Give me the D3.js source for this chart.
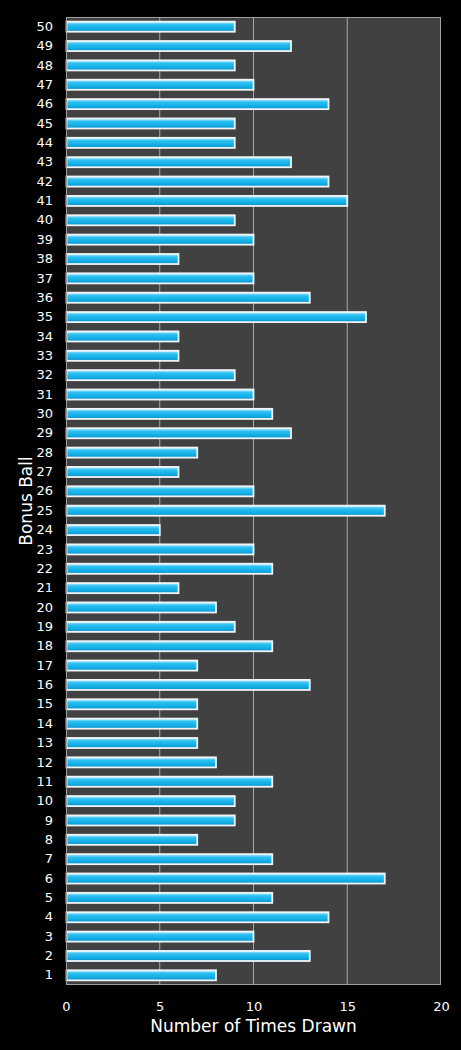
<!DOCTYPE html>
<html>
<head>
<meta charset="utf-8">
<script src="https://cdn.jsdelivr.net/npm/d3@7"></script>
<style>
  html, body { margin: 0; padding: 0; background: #000; }
  svg { display: block; }
  text { font-family: "DejaVu Sans", Verdana, sans-serif; fill: #fff; }
</style>
</head>
<body>
<div class="bonus-chart"></div>
<script>
// bonus ball numbers, 1..50
const balls = d3.range(1, 51);
// number of times each ball was drawn
const timesDrawn = [
  8, 13, 10, 14, 11, 17, 11, 7, 9, 9,
  11, 8, 7, 7, 7, 13, 7, 11, 9, 8,
  6, 11, 10, 5, 17, 10, 6, 7, 12, 11,
  10, 9, 6, 6, 16, 13, 10, 6, 10, 9,
  15, 14, 12, 9, 9, 14, 10, 9, 12, 9
];
const xTicks = [0, 5, 10, 15, 20];

const width = 461, height = 1050;
const margin = {top: 17, right: 20, bottom: 65, left: 66};
const innerW = width - margin.left - margin.right;
const innerH = height - margin.top - margin.bottom;

const svg = d3.select('.bonus-chart').append('svg')
              .attr('width', width)
              .attr('height', height);

// bar gradient
const grad = svg.append('defs').append('linearGradient')
                .attr('id', 'barGrad').attr('x1', 0).attr('y1', 0).attr('x2', 0).attr('y2', 1);
grad.append('stop').attr('offset', '0%').attr('stop-color', '#bdeefe');
grad.append('stop').attr('offset', '30%').attr('stop-color', '#2cc0f0');
grad.append('stop').attr('offset', '70%').attr('stop-color', '#12ade6');
grad.append('stop').attr('offset', '100%').attr('stop-color', '#0b8fc6');

const g = svg.append('g').attr('transform', 'translate(' + margin.left + ',' + margin.top + ')');

const x = d3.scaleLinear().domain([0, 20]).range([0, innerW]);
const y = d3.scaleBand().domain(balls.slice().reverse()).range([0, innerH]).paddingInner(0.48).paddingOuter(0.24);

// plot background
g.append('rect').attr('width', innerW).attr('height', innerH).attr('fill', '#414141');

// vertical grid lines
g.selectAll('.grid').data(xTicks.slice(1, -1)).enter().append('line')
 .attr('class', 'grid')
 .attr('x1', d => x(d)).attr('x2', d => x(d))
 .attr('y1', 0).attr('y2', innerH)
 .attr('stroke', '#a8a8a8').attr('stroke-width', 1);

// bars
g.selectAll('.bar').data(balls).enter().append('rect')
 .attr('class', 'bar')
 .attr('x', 0.5)
 .attr('y', d => y(d))
 .attr('width', d => x(timesDrawn[d - 1]) - 0.5)
 .attr('height', y.bandwidth())
 .attr('fill', 'url(#barGrad)')
 .attr('stroke', '#eef4f8').attr('stroke-width', 1.8);

// plot frame
g.append('rect').attr('x', 0.5).attr('y', 0.5).attr('width', innerW - 1).attr('height', innerH - 1)
 .attr('fill', 'none').attr('stroke', '#a0a0a0').attr('stroke-width', 1);

// axes
const xAxis = g.append('g').attr('transform', 'translate(0,' + innerH + ')')
               .call(d3.axisBottom(x).tickValues(xTicks).tickSize(0).tickPadding(17));
const yAxis = g.append('g')
               .call(d3.axisLeft(y).tickSize(0).tickPadding(13));
[xAxis, yAxis].forEach(a => {
  a.select('.domain').remove();
  a.selectAll('text').style('font-size', '13px').style('fill', '#fff')
   .style('font-family', '"DejaVu Sans", Verdana, sans-serif');
});

// axis titles
svg.append('text')
   .attr('x', margin.left + innerW / 2).attr('y', 1032)
   .attr('text-anchor', 'middle').style('font-size', '17px')
   .text('Number of Times Drawn');
svg.append('text')
   .attr('transform', 'translate(32,' + (margin.top + innerH / 2) + ') rotate(-90)')
   .attr('text-anchor', 'middle').style('font-size', '17px')
   .text('Bonus Ball');
</script>
</body>
</html>
